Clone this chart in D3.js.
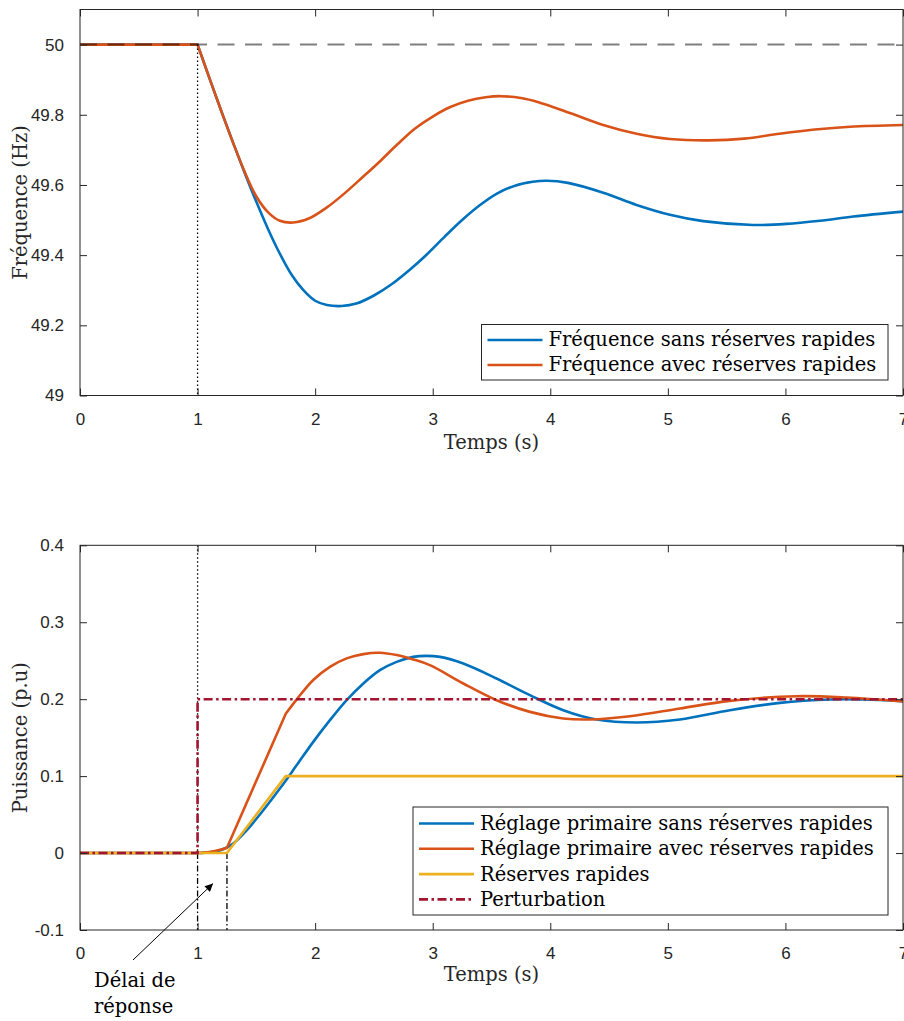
<!DOCTYPE html>
<html>
<head>
<meta charset="utf-8">
<script src="https://cdn.jsdelivr.net/npm/d3@7"></script>
<style>
  html, body { margin: 0; padding: 0; background: #fff; }
  svg { display: block; }
</style>
</head>
<body>
<svg id="chart" width="904" height="1021"></svg>
<script>
// ---------------- DATA ----------------
const xTicks = [0, 1, 2, 3, 4, 5, 6, 7];
const freqTicks = [49, 49.2, 49.4, 49.6, 49.8, 50];
const freqTickLabels = ["49", "49.2", "49.4", "49.6", "49.8", "50"];
const powerTicks = [-0.1, 0, 0.1, 0.2, 0.3, 0.4];
const powerTickLabels = ["-0.1", "0", "0.1", "0.2", "0.3", "0.4"];
const xLabel = "Temps (s)";
const freqLabel = "Fréquence (Hz)";
const powerLabel = "Puissance (p.u)";

// Top panel: frequency (Hz)
const freqSansT = [0, 1, 1.1, 1.2, 1.3, 1.4, 1.5, 1.6, 1.7, 1.8, 1.9, 2.0, 2.1, 2.225, 2.35, 2.5, 2.65, 2.8, 2.95, 3.1, 3.25, 3.4, 3.55, 3.7, 3.85, 3.968, 4.15, 4.45, 4.734, 5.017, 5.30, 5.725, 6.009, 6.293, 6.576, 7];
const freqSansV = [50, 50, 49.905, 49.812, 49.722, 49.635, 49.552, 49.474, 49.404, 49.344, 49.300, 49.270, 49.258, 49.255, 49.262, 49.285, 49.317, 49.357, 49.402, 49.452, 49.500, 49.542, 49.576, 49.598, 49.609, 49.612, 49.606, 49.578, 49.543, 49.515, 49.497, 49.486, 49.489, 49.498, 49.510, 49.524];
const freqAvecT = [0, 1, 1.1, 1.2, 1.3, 1.4, 1.5, 1.6, 1.7, 1.814, 1.95, 2.1, 2.25, 2.4, 2.55, 2.7, 2.85, 3.0, 3.15, 3.3, 3.45, 3.58, 3.75, 3.9, 4.167, 4.45, 4.734, 5.017, 5.35, 5.65, 5.95, 6.25, 6.55, 7];
const freqAvecV = [50, 50, 49.905, 49.812, 49.722, 49.638, 49.567, 49.522, 49.498, 49.493, 49.505, 49.536, 49.576, 49.621, 49.667, 49.716, 49.761, 49.795, 49.822, 49.840, 49.850, 49.853, 49.848, 49.836, 49.805, 49.771, 49.746, 49.731, 49.727, 49.732, 49.746, 49.758, 49.766, 49.771];
const nominalFreq = 50;
const eventTime = 1;

// Bottom panel: power (p.u)
const pSansT = [0, 1, 1.1, 1.2, 1.3, 1.417, 1.559, 1.70, 1.842, 1.984, 2.126, 2.268, 2.41, 2.551, 2.693, 2.834, 2.948, 3.061, 3.26, 3.543, 3.827, 4.11, 4.394, 4.734, 5.102, 5.527, 5.952, 6.378, 6.66, 7];
const pSansV = [0, 0, 0.001, 0.004, 0.012, 0.0295, 0.0556, 0.0838, 0.114, 0.1445, 0.1727, 0.1987, 0.2204, 0.2377, 0.2485, 0.255, 0.2563, 0.255, 0.2464, 0.2269, 0.2052, 0.1857, 0.1736, 0.1697, 0.1736, 0.1857, 0.1952, 0.1996, 0.1996, 0.1974];
const pAvecT = [0, 1, 1.1, 1.2, 1.25, 1.75, 1.85, 1.984, 2.126, 2.268, 2.41, 2.551, 2.693, 2.834, 2.976, 3.26, 3.543, 3.827, 4.11, 4.337, 4.677, 5.102, 5.527, 6.094, 6.52, 7];
const pAvecV = [0, 0, 0.0012, 0.0045, 0.007, 0.181, 0.201, 0.225, 0.242, 0.253, 0.2586, 0.2603, 0.2573, 0.2517, 0.2442, 0.2204, 0.1987, 0.1835, 0.1749, 0.1736, 0.1779, 0.1879, 0.1978, 0.2039, 0.2022, 0.197];
const fastT = [0, 1.25, 1.75, 7];
const fastV = [0, 0, 0.1, 0.1];
const pertT = [0, 1, 1, 7];
const pertV = [0, 0, 0.2, 0.2];
const delayEnd = 1.25;

const topLegend = ["Fréquence sans réserves rapides", "Fréquence avec réserves rapides"];
const bottomLegend = ["Réglage primaire sans réserves rapides", "Réglage primaire avec réserves rapides", "Réserves rapides", "Perturbation"];
const annotationLines = ["Délai de", "réponse"];

// ---------------- STYLE ----------------
const C = { blue: "#0072BD", orange: "#D95319", yellow: "#EDB120", red: "#A2142F", axis: "#262626" };
const serif = "'DejaVu Serif', serif";
const sans = "'Liberation Sans', Arial, sans-serif";
const LW = 2.6;

const svg = d3.select("#chart");

function zip(T, V) { return T.map((t, i) => ({ t, v: V[i] })); }

function smoothPath(x, y, pts, kinks) {
  const parts = [];
  let cur = [];
  pts.forEach(p => {
    cur.push(p);
    if (kinks.includes(p.t) && cur.length > 1) { parts.push(cur); cur = [p]; }
  });
  if (cur.length > 1) parts.push(cur);
  const gen = d3.line().x(d => x(d.t)).y(d => y(d.v)).curve(d3.curveCatmullRom.alpha(0.5));
  return parts.map(p => gen(p)).join("");
}

function drawAxes(g, x, y, yTicks, yLabels, x0, x1, yT, yB) {
  const tick = 7;
  const ax = g.append("g").attr("transform", `translate(0,${yB})`)
    .call(d3.axisBottom(x).tickValues(xTicks).tickSize(-tick).tickPadding(tick + 10).tickFormat(d => String(d)));
  ax.select(".domain").remove();
  ax.selectAll("text").attr("font-family", sans).attr("font-size", 17).attr("fill", C.axis);
  const at = g.append("g").attr("transform", `translate(0,${yT})`)
    .call(d3.axisTop(x).tickValues(xTicks).tickSize(-tick).tickFormat(""));
  at.select(".domain").remove();
  const al = g.append("g").attr("transform", `translate(${x0},0)`)
    .call(d3.axisLeft(y).tickValues(yTicks).tickSize(-tick).tickPadding(tick + 9)
      .tickFormat((d, i) => yLabels[i]));
  al.select(".domain").remove();
  al.selectAll("text").attr("font-family", sans).attr("font-size", 17).attr("fill", C.axis);
  const ar = g.append("g").attr("transform", `translate(${x1},0)`)
    .call(d3.axisRight(y).tickValues(yTicks).tickSize(-tick).tickFormat(""));
  ar.select(".domain").remove();
  g.selectAll(".tick line").attr("stroke", C.axis).attr("stroke-width", 1);
  g.append("rect").attr("x", x0).attr("y", yT).attr("width", x1 - x0).attr("height", yB - yT)
    .attr("fill", "none").attr("stroke", C.axis).attr("stroke-width", 1);
}

function legend(g, items, bx, by, bw, bh, rowY0, rowStep) {
  const lg = g.append("g");
  lg.append("rect").attr("x", bx).attr("y", by).attr("width", bw).attr("height", bh)
    .attr("fill", "#fff").attr("stroke", C.axis).attr("stroke-width", 1);
  items.forEach((it, i) => {
    const yy = rowY0 + i * rowStep;
    lg.append("line").attr("x1", bx + 6).attr("x2", bx + 61).attr("y1", yy).attr("y2", yy)
      .attr("stroke", it.color).attr("stroke-width", LW).attr("stroke-dasharray", it.dash || null);
    lg.append("text").attr("x", bx + 67).attr("y", yy).attr("dy", "0.33em")
      .attr("font-family", serif).attr("font-size", 19.5).attr("fill", "#000").text(it.label);
  });
}

const X0 = 80, X1 = 903;

// ================= TOP PANEL =================
{
  const yT = 9.5, yB = 395.5;
  const x = d3.scaleLinear().domain([0, 7]).range([X0, X1]);
  const y = d3.scaleLinear().domain([49, 50.1]).range([yB, yT]);
  const g = svg.append("g");

  g.append("clipPath").attr("id", "clipTop").append("rect")
    .attr("x", X0).attr("y", yT).attr("width", X1 - X0).attr("height", yB - yT);
  const pg = g.append("g").attr("clip-path", "url(#clipTop)");

  pg.append("path").attr("d", smoothPath(x, y, zip(freqSansT, freqSansV), [eventTime]))
    .attr("fill", "none").attr("stroke", C.blue).attr("stroke-width", LW).attr("stroke-linejoin", "round").attr("stroke-linecap", "round");
  pg.append("path").attr("d", smoothPath(x, y, zip(freqAvecT, freqAvecV), [eventTime]))
    .attr("fill", "none").attr("stroke", C.orange).attr("stroke-width", LW).attr("stroke-linejoin", "round").attr("stroke-linecap", "round");
  pg.append("line").attr("x1", x(0)).attr("x2", x(7)).attr("y1", y(nominalFreq)).attr("y2", y(nominalFreq))
    .attr("stroke", "#000").attr("stroke-opacity", 0.5).attr("stroke-width", 2).attr("stroke-dasharray", "17,10.5");
  pg.append("line").attr("x1", x(eventTime)).attr("x2", x(eventTime)).attr("y1", y(nominalFreq)).attr("y2", y(49))
    .attr("stroke", "#000").attr("stroke-width", 1.3).attr("stroke-dasharray", "1.5,2.5");

  drawAxes(g, x, y, freqTicks, freqTickLabels, X0, X1, yT, yB);

  g.append("text").attr("x", (X0 + X1) / 2).attr("y", 449).attr("text-anchor", "middle")
    .attr("font-family", serif).attr("font-size", 19.5).attr("fill", C.axis).text(xLabel);
  g.append("text").attr("transform", `translate(27,${(yT + yB) / 2}) rotate(-90)`).attr("text-anchor", "middle")
    .attr("font-family", serif).attr("font-size", 19.5).attr("fill", C.axis).text(freqLabel);

  legend(g, [
    { label: topLegend[0], color: C.blue },
    { label: topLegend[1], color: C.orange }
  ], 481.5, 324.5, 406.5, 55.5, 340, 25);
}

// ================= BOTTOM PANEL =================
{
  const yT = 545.3, yB = 930;
  const x = d3.scaleLinear().domain([0, 7]).range([X0, X1]);
  const y = d3.scaleLinear().domain([-0.1, 0.4]).range([yB, yT]);
  const g = svg.append("g");

  g.append("clipPath").attr("id", "clipBot").append("rect")
    .attr("x", X0).attr("y", yT).attr("width", X1 - X0).attr("height", yB - yT);
  const pg = g.append("g").attr("clip-path", "url(#clipBot)");

  pg.append("line").attr("x1", x(eventTime)).attr("x2", x(eventTime)).attr("y1", y(0.4)).attr("y2", y(0))
    .attr("stroke", "#000").attr("stroke-width", 1.3).attr("stroke-dasharray", "1.5,2.5");
  [eventTime, delayEnd].forEach(t => {
    pg.append("line").attr("x1", x(t)).attr("x2", x(t)).attr("y1", y(0)).attr("y2", y(-0.1))
      .attr("stroke", "#000").attr("stroke-width", 1.3).attr("stroke-dasharray", "6,2.5,1.5,2.5");
  });

  pg.append("path").attr("d", smoothPath(x, y, zip(pSansT, pSansV), [eventTime]))
    .attr("fill", "none").attr("stroke", C.blue).attr("stroke-width", LW).attr("stroke-linejoin", "round").attr("stroke-linecap", "round");
  pg.append("path").attr("d", smoothPath(x, y, zip(pAvecT, pAvecV), [eventTime, 1.25, 1.75]))
    .attr("fill", "none").attr("stroke", C.orange).attr("stroke-width", LW).attr("stroke-linejoin", "round").attr("stroke-linecap", "round");
  const lin = d3.line().x(d => x(d.t)).y(d => y(d.v));
  pg.append("path").attr("d", lin(zip(fastT, fastV)))
    .attr("fill", "none").attr("stroke", C.yellow).attr("stroke-width", LW).attr("stroke-linejoin", "round");
  pg.append("path").attr("d", lin(zip(pertT, pertV)))
    .attr("fill", "none").attr("stroke", C.red).attr("stroke-width", LW).attr("stroke-dasharray", "9,3.5,2.5,3.5");

  drawAxes(g, x, y, powerTicks, powerTickLabels, X0, X1, yT, yB);

  g.append("text").attr("x", (X0 + X1) / 2).attr("y", 981).attr("text-anchor", "middle")
    .attr("font-family", serif).attr("font-size", 19.5).attr("fill", C.axis).text(xLabel);
  g.append("text").attr("transform", `translate(27,${(yT + yB) / 2}) rotate(-90)`).attr("text-anchor", "middle")
    .attr("font-family", serif).attr("font-size", 19.5).attr("fill", C.axis).text(powerLabel);

  legend(g, [
    { label: bottomLegend[0], color: C.blue },
    { label: bottomLegend[1], color: C.orange },
    { label: bottomLegend[2], color: C.yellow },
    { label: bottomLegend[3], color: C.red, dash: "9,3.5,2.5,3.5" }
  ], 413, 807, 475, 108, 823.5, 25.3);

  const defs = svg.append("defs");
  defs.append("marker").attr("id", "arrowHead").attr("viewBox", "0 0 10 10").attr("refX", 10).attr("refY", 5)
    .attr("markerWidth", 10).attr("markerHeight", 8).attr("markerUnits", "userSpaceOnUse").attr("orient", "auto")
    .append("path").attr("d", "M0,0 L10,5 L0,10 Z").attr("fill", "#000");
  svg.append("line").attr("x1", 133).attr("y1", 960).attr("x2", 213).attr("y2", 883.5)
    .attr("stroke", "#000").attr("stroke-width", 1).attr("marker-end", "url(#arrowHead)");
  const at = svg.append("text").attr("font-family", serif).attr("font-size", 19.5).attr("fill", "#000");
  annotationLines.forEach((s, i) => {
    at.append("tspan").attr("x", 94).attr("y", 986.5 + i * 26.5).text(s);
  });
}
</script>
</body>
</html>
